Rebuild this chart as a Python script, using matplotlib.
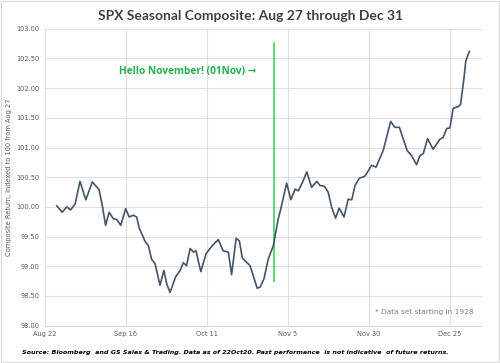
import matplotlib.pyplot as plt
from matplotlib.patches import Rectangle

# days since Aug 22 and composite value (indexed to 100 on Aug 27)
days = [3.6, 5.3, 6.7, 7.9, 9.3, 10.8, 12.6, 14.6, 16.7, 17.7, 18.7, 19.8, 21.1, 22.1,
        23.4, 24.9, 26.0, 27.3, 28.3, 29.1, 30.9, 31.9, 32.9, 34.0, 35.5, 36.7, 37.6,
        38.6, 40.3, 41.7, 42.7, 43.7, 44.8, 45.8, 46.6, 48.1, 49.7, 51.5, 53.5, 55.0,
        56.6, 57.6, 59.0, 60.0, 60.9, 63.3, 64.3, 65.5, 66.4, 67.6, 68.9, 70.5, 72.0,
        72.8, 74.6, 75.9, 77.2, 78.2, 79.7, 80.8, 82.3, 83.9, 84.9, 86.2, 87.4, 88.5,
        89.7, 90.8, 92.3, 93.6, 94.7, 95.7, 97.0, 98.8, 100.8, 102.2, 104.4, 106.7,
        108.0, 109.4, 110.6, 111.8, 113.2, 114.7, 115.7, 116.8, 118.1, 119.8, 121.9,
        122.9, 124.0, 125.0, 126.0, 127.6, 128.3, 129.3, 129.9, 131.0]
values = [100.02, 99.91, 100.00, 99.95, 100.05, 100.43, 100.12, 100.42, 100.29, 100.02,
          99.69, 99.91, 99.80, 99.79, 99.69, 99.97, 99.83, 99.86, 99.83, 99.64, 99.42,
          99.35, 99.12, 99.04, 98.68, 98.93, 98.70, 98.56, 98.82, 98.93, 99.06, 99.01,
          99.30, 99.24, 99.26, 98.91, 99.21, 99.34, 99.45, 99.26, 99.24, 98.86, 99.47,
          99.43, 99.14, 99.01, 98.84, 98.63, 98.65, 98.79, 99.12, 99.35, 99.80, 99.97,
          100.40, 100.12, 100.30, 100.27, 100.44, 100.59, 100.33, 100.43, 100.36, 100.35,
          100.25, 99.99, 99.81, 99.98, 99.83, 100.13, 100.12, 100.36, 100.48, 100.52,
          100.70, 100.67, 100.95, 101.44, 101.34, 101.34, 101.14, 100.95, 100.86, 100.71,
          100.86, 100.90, 101.15, 100.97, 101.14, 101.17, 101.32, 101.33, 101.66, 101.69,
          101.73, 102.15, 102.46, 102.62]

tick_days = [0, 25, 50, 75, 100, 125]
tick_labels = ['Aug 22', 'Sep 16', 'Oct 11', 'Nov 5', 'Nov 30', 'Dec 25']
y_ticks = [98.0, 98.5, 99.0, 99.5, 100.0, 100.5, 101.0, 101.5, 102.0, 102.5, 103.0]
nov1 = 70.6  # Nov 1 marker
marker_range = [98.76, 102.76]

fig = plt.figure(figsize=(5, 3.63), dpi=100)
ax = fig.add_axes([0.09, 0.1028, 0.874, 0.818])

ax.plot(days, values, color='#44546a', lw=1.2, solid_joinstyle='round', zorder=3)
ax.plot([nov1, nov1], marker_range, color='#4fd36f', lw=1.3, zorder=2)
ax.text(65.3, 102.28, 'Hello November! (01Nov) \u2192', color='#22b14c', fontsize=7.3,
        fontweight='bold', ha='right', va='center', family=['Open Sans', 'DejaVu Sans'])

ax.set_xlim(0, 134.9)
ax.set_ylim(98, 103)
ax.set_xticks(tick_days)
ax.set_xticklabels(tick_labels)
ax.set_yticks(y_ticks)
ax.set_yticklabels(['%.2f' % v for v in y_ticks])
ax.tick_params(length=0, labelsize=4.8, labelcolor='#595959', pad=4)
ax.grid(True, color='#e0e0e0', lw=0.8)
ax.set_axisbelow(True)
for s in ['top', 'right', 'left']:
    ax.spines[s].set_visible(False)
ax.spines['bottom'].set_color('#d9d9d9')
ax.set_ylabel('Composite Return, Indexed to 100 from Aug 27', fontsize=4.8,
              color='#595959', labelpad=3)

ax.text(0.98, 0.045, '* Data set starting in 1928', transform=ax.transAxes, ha='right',
        va='center', fontsize=5.3, color='#7f7f7f')

fig.text(0.5, 0.955, 'SPX Seasonal Composite: Aug 27 through Dec 31', ha='center',
         va='center', fontsize=10, fontweight='bold', color='#404040', family='Lato')
fig.text(0.044, 0.03, 'Source: Bloomberg  and GS Sales & Trading. Data as of 22Oct20. '
         'Past performance  is not indicative  of future returns.', fontsize=4.6,
         fontweight='bold', style='italic', color='black', va='center')

fig.patches.append(Rectangle((0.002, 0.003), 0.996, 0.994, transform=fig.transFigure,
                             fill=False, edgecolor='#d9d9d9', lw=0.8))

fig.savefig('out.png', dpi=100)
